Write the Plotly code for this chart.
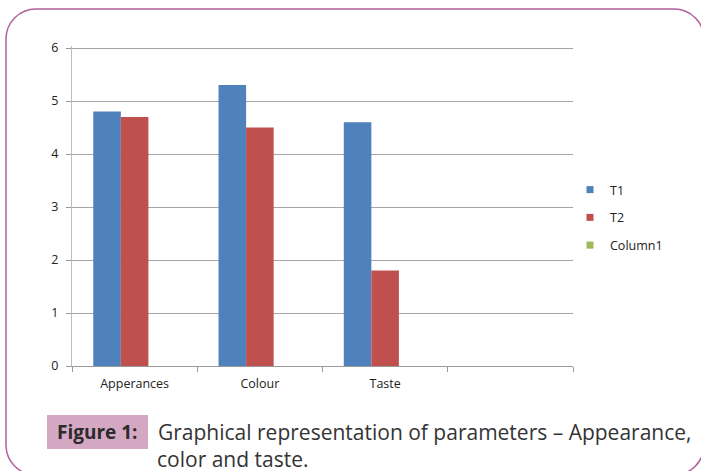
import plotly.graph_objects as go

W, H = 701, 471

categories = ["Apperances", "Colour", "Taste", " "]
t1 = [4.8, 5.3, 4.6, None]
t2 = [4.7, 4.5, 1.8, None]
column1 = [None, None, None, None]
series_names = ["T1", "T2", "Column1"]
series_colors = ["#4f81bd", "#c0504d", "#9bbb59"]
y_ticks = [0, 1, 2, 3, 4, 5, 6]

def px(x):
    return x / W

def py(y):
    return 1 - y / H

fig = go.Figure()
for name, vals, col in zip(series_names, [t1, t2, column1], series_colors):
    fig.add_trace(go.Bar(x=categories, y=vals, name=name, marker_color=col,
                         marker_line_width=0, showlegend=False))
# legend proxies (small square swatches like the original)
for name, col in zip(series_names, series_colors):
    fig.add_trace(go.Scatter(x=[None], y=[None], mode="markers", name=name,
                             marker=dict(symbol="square", size=7, color=col),
                             legendgroup=name))

def rounded_path(x0, y0, x1, y1, r):
    k = 0.5523 * r
    def P(x, y):
        return f"{px(x):.5f},{py(y):.5f}"
    d = f"M {P(x0 + r, y0)} L {P(x1 - r, y0)} "
    d += f"C {P(x1 - r + k, y0)} {P(x1, y0 + r - k)} {P(x1, y0 + r)} "
    d += f"L {P(x1, y1 - r)} "
    d += f"C {P(x1, y1 - r + k)} {P(x1 - r + k, y1)} {P(x1 - r, y1)} "
    d += f"L {P(x0 + r, y1)} "
    d += f"C {P(x0 + r - k, y1)} {P(x0, y1 - r + k)} {P(x0, y1 - r)} "
    d += f"L {P(x0, y0 + r)} "
    d += f"C {P(x0, y0 + r - k)} {P(x0 + r - k, y0)} {P(x0 + r, y0)} Z"
    return d

fig.add_shape(type="path", xref="paper", yref="paper",
              path=rounded_path(6, 9, 704, 475, 30),
              line=dict(color="#b0609a", width=1.5), fillcolor="rgba(0,0,0,0)")

# caption box
fig.add_shape(type="rect", xref="paper", yref="paper",
              x0=px(47), x1=px(148), y0=py(449), y1=py(415),
              fillcolor="#d4a7c3", line=dict(width=0), layer="below")
fig.add_annotation(xref="paper", yref="paper", x=px(97.5), y=py(432),
                   text="<b>Figure 1:</b>", showarrow=False,
                   xanchor="center", yanchor="middle",
                   font=dict(family="Open Sans", size=19, color="#2b2b2b"))
fig.add_annotation(xref="paper", yref="paper", x=px(156), y=py(432),
                   text="Graphical representation of parameters – Appearance,",
                   showarrow=False, xanchor="left", yanchor="middle",
                   font=dict(family="Open Sans", size=21, color="#333333"))
fig.add_annotation(xref="paper", yref="paper", x=px(156), y=py(459),
                   text="color and taste.", borderpad=0,
                   showarrow=False, xanchor="left", yanchor="middle",
                   font=dict(family="Open Sans", size=21, color="#333333"))

y_top_val = 6.04
unit_px = (366 - 48) / 6.0
top_px = 366 - unit_px * y_top_val

fig.update_layout(
    template="none",
    width=W, height=H,
    margin=dict(l=0, r=0, t=0, b=0, pad=0, autoexpand=False),
    paper_bgcolor="white", plot_bgcolor="white",
    barmode="group", bargap=0.34, bargroupgap=0,
    font=dict(family="Open Sans", size=12.5, color="#222222"),
    showlegend=True,
    legend=dict(x=px(570), y=py(175), xanchor="left", yanchor="top",
                font=dict(family="Open Sans", size=12.5, color="#222222"),
                itemwidth=30, tracegroupgap=8.5, traceorder="grouped",
                bgcolor="rgba(0,0,0,0)", borderwidth=0),
    xaxis=dict(domain=[px(72), px(573)], type="category", automargin=False,
               categoryorder="array", categoryarray=categories,
               showline=True, linecolor="#999999", linewidth=1,
               ticks="outside", tickson="boundaries", ticklen=5,
               tickcolor="#999999", showgrid=False, fixedrange=True,
               ticklabelstandoff=6, tickfont=dict(size=12.5)),
    yaxis=dict(domain=[py(366), py(top_px)], range=[0, y_top_val],
               tickvals=y_ticks, automargin=False,
               showline=True, linecolor="#bdbdbd", linewidth=1,
               ticks="outside", ticklen=5, tickcolor="#999999",
               showgrid=True, gridcolor="#a6a6a6", gridwidth=1,
               zeroline=False, ticklabelstandoff=5,
               tickfont=dict(size=12.5)),
)

fig.write_html("out.html")
